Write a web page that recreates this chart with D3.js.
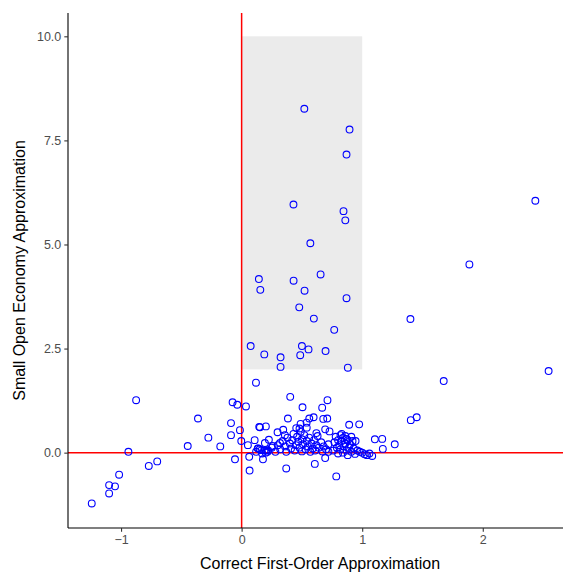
<!DOCTYPE html>
<html>
<head>
<meta charset="utf-8">
<script src="https://cdn.jsdelivr.net/npm/d3@7"></script>
<style>
  html, body { margin: 0; padding: 0; background: #fff; }
  svg { display: block; }
</style>
</head>
<body>
<svg id="chart" width="563" height="572"></svg>
<script>
// Correct first-order approximation (x) vs small open economy approximation (y)
const correctFO = [
  // scattered points inside the highlighted band
  0.52, 0.895, 0.87, 0.43, 0.845, 0.86, 0.57, 0.143, 0.155, 0.431, 0.655, 0.522, 0.87, 0.478, 0.599,
  0.768, 0.075, 0.50, 0.555, 0.696, 0.188, 0.323, 0.486, 0.323, 0.881,
  // right-hand outliers
  2.436, 1.889, 1.40, 2.546, 1.676, 1.403, 1.452, 0.892, 0.975, 1.105, 1.166, 1.171, 1.27, 0.945, 1.083,
  // left tail
  -1.243, -1.099, -1.099, -1.05, -1.016, -0.939, -0.875, -0.77, -0.70, -0.447, -0.362, -0.276, -0.177,
  -0.088, -0.088, -0.075, -0.036, 0.036, -0.014, -0.003, -0.055, 0.052, 0.063, 0.066, 0.108, 0.119,
  0.146, 0.133,
  // upper edge of the main cloud
  0.403, 0.712, 0.505, 0.668, 0.384, 0.561, 0.597, 0.677, 0.71, 0.539, 0.489, 0.453, 0.152, 0.201,
  0.693, 0.729, 0.298, 0.226, 0.177, 0.37, 0.607, 0.693, 0.785, 0.359, 0.318, 0.193, 0.257, 0.138,
  0.165, 0.206, 0.215, 0.345, 0.54, 0.48, 0.62,
  // main cloud, left group
  0.22, 0.25, 0.28, 0.30, 0.32, 0.34, 0.36, 0.37, 0.38, 0.40, 0.41, 0.42, 0.43, 0.44, 0.45, 0.46, 0.47,
  0.48, 0.49, 0.50, 0.50, 0.51, 0.52, 0.53, 0.54, 0.55, 0.56, 0.57, 0.58, 0.59, 0.60, 0.61, 0.62, 0.63,
  0.64, 0.66, 0.67, 0.68, 0.70, 0.72, 0.72,
  // main cloud, right group
  0.76, 0.77, 0.78, 0.79, 0.80, 0.80, 0.81, 0.82, 0.82, 0.83, 0.84, 0.84, 0.85, 0.86, 0.86, 0.87, 0.88,
  0.88, 0.89, 0.90, 0.91, 0.92, 0.93, 0.94, 0.96, 0.98, 1.00, 1.02, 1.04, 1.06, 0.83, 0.87, 0.91,
  // near the origin
  0.12, 0.15, 0.17, 0.19, 0.20
];

const smallOpen = [
  8.26, 7.76, 7.16, 5.96, 5.80, 5.58, 5.03, 4.17, 3.91, 4.13, 4.28, 3.89, 3.71, 3.49, 3.22,
  2.95, 2.56, 2.56, 2.48, 2.44, 2.36, 2.29, 2.34, 2.06, 2.04,
  6.05, 4.52, 3.21, 1.96, 1.72, 0.78, 0.85, 0.67, 0.68, 0.32, 0.33, 0.09, 0.20, 0.28, -0.08,
  -1.22, -0.98, -0.78, -0.81, -0.53, 0.02, 1.26, -0.32, -0.21, 0.16, 0.82, 0.36, 0.15,
  0.71, 0.42, 1.21, 1.15, 1.11, 0.54, 0.28, -0.16, 0.18, -0.10, -0.43, 0.30, 1.68,
  0.62, 0.10,
  1.34, 1.26, 1.09, 1.08, 0.82, 0.82, 0.85, 0.81, 0.82, 0.72, 0.69, 0.59, 0.61, 0.63,
  0.56, 0.51, 0.49, 0.31, -0.16, -0.38, -0.27, -0.13, -0.57, 0.42, 0.23, 0.23, 0.16, 0.10,
  0.06, 0.06, 0.02, 0.55, 0.60, 0.58, 0.47,
  0.05, 0.12, 0.02, 0.18, 0.08, 0.28, 0.15, 0.02, 0.36, 0.22, 0.10, 0.30, 0.45, 0.05, 0.18, 0.38, 0.26,
  0.12, 0.50, 0.03, 0.32, 0.20, 0.42, 0.08, 0.28, 0.15, 0.36, 0.02, 0.22, 0.10, 0.30, 0.05, 0.18, 0.40,
  0.12, 0.25, 0.03, 0.15, 0.08, 0.20, 0.02,
  0.05, 0.25, 0.38, 0.12, 0.30, -0.02, 0.18, 0.42, 0.08, 0.28, 0.35, 0.00, 0.15, 0.22, 0.40, 0.05, 0.30,
  -0.06, 0.12, 0.20, 0.02, 0.28, 0.10, -0.03, 0.05, 0.02, 0.00, -0.04, -0.06, -0.02, 0.45, 0.33, 0.38,
  0.02, 0.08, -0.02, 0.05, 0.00
];

const xTicks = [-1, 0, 1, 2];
const yTicks = [0, 2.5, 5, 7.5, 10];

// Highlighted band
const bandX = [0, 1];
const bandY = [2, 10];

const points = correctFO.map((x, i) => ({ x, y: smallOpen[i] }));

const svg = d3.select("#chart");
const margin = { left: 68, top: 13, bottom: 44 };
const panelRight = 572;
const height = 572;

const x = d3.scaleLinear().domain([-1.44, 2.74]).range([margin.left, panelRight]);
const y = d3.scaleLinear().domain([-1.81, 10.56]).range([height - margin.bottom, margin.top]);

const plot = svg.append("g");

// band
plot.append("rect")
  .attr("x", x(bandX[0]))
  .attr("y", y(bandY[1]))
  .attr("width", x(bandX[1]) - x(bandX[0]))
  .attr("height", y(bandY[0]) - y(bandY[1]))
  .attr("fill", "#ebebeb");

// reference lines at zero
plot.append("line")
  .attr("x1", x(0)).attr("x2", x(0))
  .attr("y1", y.range()[0]).attr("y2", y.range()[1])
  .attr("stroke", "#ff0000").attr("stroke-width", 1.5);
plot.append("line")
  .attr("x1", x.range()[0]).attr("x2", x.range()[1])
  .attr("y1", y(0)).attr("y2", y(0))
  .attr("stroke", "#ff0000").attr("stroke-width", 1.5);

// points
plot.append("g")
  .selectAll("circle")
  .data(points)
  .join("circle")
  .attr("cx", d => x(d.x))
  .attr("cy", d => y(d.y))
  .attr("r", 3.4)
  .attr("fill", "none")
  .attr("stroke", "#0000ff")
  .attr("stroke-width", 1.1);

// axes
const xAxis = svg.append("g")
  .attr("transform", `translate(0,${y.range()[0]})`)
  .call(d3.axisBottom(x).tickValues(xTicks).tickFormat(d3.format("d")).tickSize(3.7).tickPadding(3));
const yAxis = svg.append("g")
  .attr("transform", `translate(${margin.left},0)`)
  .call(d3.axisLeft(y).tickValues(yTicks).tickFormat(d3.format(".1f")).tickSize(3.7).tickPadding(3));

[xAxis, yAxis].forEach(g => {
  g.select(".domain").attr("stroke", "#000").attr("stroke-width", 1.1);
  g.selectAll(".tick line").attr("stroke", "#333").attr("stroke-width", 1.1);
  g.selectAll(".tick text")
    .attr("fill", "#4d4d4d")
    .attr("font-family", "Liberation Sans, Arial, sans-serif")
    .attr("font-size", 12.5);
});
xAxis.select(".domain").attr("d", `M${x.range()[0]},0H${x.range()[1]}`);
yAxis.select(".domain").attr("d", `M0,${y.range()[0]}V${y.range()[1]}`);

// axis titles
svg.append("text")
  .attr("x", (x.range()[0] + x.range()[1]) / 2)
  .attr("y", 569)
  .attr("text-anchor", "middle")
  .attr("font-family", "Liberation Sans, Arial, sans-serif")
  .attr("font-size", 16)
  .attr("fill", "#000")
  .text("Correct First-Order Approximation");

svg.append("text")
  .attr("transform", `translate(25,${(y.range()[0] + y.range()[1]) / 2}) rotate(-90)`)
  .attr("text-anchor", "middle")
  .attr("font-family", "Liberation Sans, Arial, sans-serif")
  .attr("font-size", 16)
  .attr("fill", "#000")
  .text("Small Open Economy Approximation");
</script>
</body>
</html>
